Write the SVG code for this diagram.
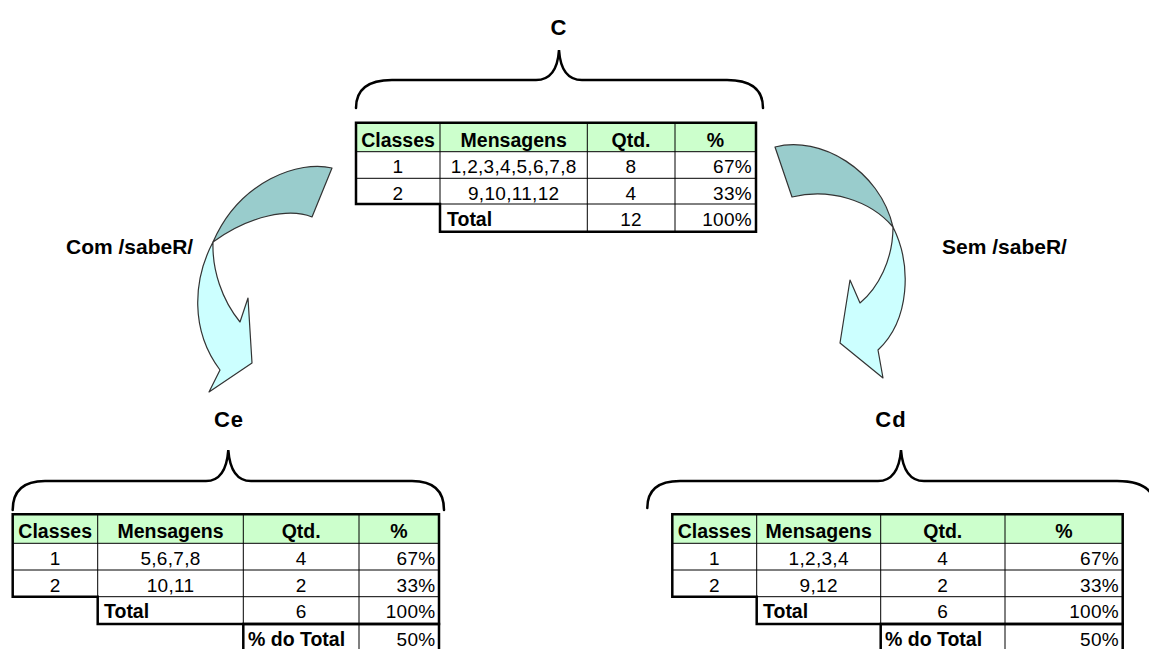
<svg xmlns="http://www.w3.org/2000/svg" width="1149" height="649" viewBox="0 0 1149 649">
  <style>
    .hdr { fill: #CCFFCC; }
    .cell { fill: #FFFFFF; }
    .thin { stroke: #000; stroke-width: 1; fill: none; }
    .outline { stroke: #000; stroke-width: 2.5; fill: none; stroke-linejoin: miter; }
    .brace { stroke: #000; stroke-width: 2.5; fill: none; stroke-linecap: round; }
    .th { font-family: "Liberation Sans", Arial, sans-serif; font-weight: bold; font-size: 19.5px; fill: #000; }
    .td { font-family: "Liberation Sans", Arial, sans-serif; font-size: 19px; fill: #000; letter-spacing: 0.3px; }
    .c { text-anchor: middle; }
    .r { text-anchor: end; }
    .title { font-family: "Liberation Sans", Arial, sans-serif; font-weight: bold; font-size: 22px; fill: #000; text-anchor: middle; letter-spacing: 1px; }
    .lbl { font-family: "Liberation Sans", Arial, sans-serif; font-weight: bold; font-size: 21px; fill: #000; }
    .twist { fill: #99CCCC; stroke: #333; stroke-width: 1.2; stroke-linejoin: round; }
    .body { fill: #CCFFFF; stroke: #333; stroke-width: 1.2; stroke-linejoin: round; }
  </style>

  <!-- Top set: C -->
  <g id="node-C">
    <text class="title" x="559" y="35">C</text>
    <path class="brace" d="M356,108 Q356,80 392,80 L536,80 Q557,80 559,50 Q561,80 582,80 L727,80 Q763,80 763,108"/>
    <rect class="hdr" x="356" y="122.7" width="400" height="29"/>
    <rect class="cell" x="356" y="151.7" width="400" height="52.3"/>
    <rect class="cell" x="440" y="204" width="316" height="27.7"/>
    <path class="thin" d="M356,151.7 H756 M356,178.3 H756 M440,204 H756 M440,122.7 V204 M587.3,122.7 V231.7 M675,122.7 V231.7"/>
    <path class="outline" d="M356,122.7 H756 V231.7 H440 V204 H356 Z"/>
    <text class="th c" x="398" y="146.5">Classes</text>
    <text class="th c" x="513.7" y="146.5">Mensagens</text>
    <text class="th c" x="631" y="146.5">Qtd.</text>
    <text class="th c" x="715.5" y="146.5">%</text>
    <text class="td c" x="398" y="173">1</text>
    <text class="td c" x="513.7" y="173">1,2,3,4,5,6,7,8</text>
    <text class="td c" x="631" y="173">8</text>
    <text class="td r" x="752" y="173">67%</text>
    <text class="td c" x="398" y="200">2</text>
    <text class="td c" x="513.7" y="200">9,10,11,12</text>
    <text class="td c" x="631" y="200">4</text>
    <text class="td r" x="752" y="200">33%</text>
    <text class="th" x="447" y="226">Total</text>
    <text class="td c" x="631" y="226">12</text>
    <text class="td r" x="752" y="226">100%</text>
  </g>

  <!-- Left subset: Ce -->
  <g id="node-Ce">
    <text class="title" x="229" y="427">Ce</text>
    <path class="brace" d="M12.7,510 Q12.7,481 45,481 L206,481 Q226,481 228.3,450 Q230.6,481 251,481 L412,481 Q444,481 444,510"/>
    <rect class="hdr" x="12.7" y="514.3" width="426.3" height="29"/>
    <rect class="cell" x="12.7" y="543.3" width="426.3" height="53.4"/>
    <rect class="cell" x="97.7" y="596.7" width="341.3" height="27.3"/>
    <rect class="cell" x="243.3" y="624" width="195.7" height="27"/>
    <path class="thin" d="M12.7,543.3 H439 M12.7,570 H439 M97.7,596.7 H439 M97.7,514.3 V596.7 M243.3,514.3 V624 M359,514.3 V651"/>
    <path class="outline" d="M12.7,514.3 H439 V624 H97.7 V596.7 H12.7 Z"/>
    <path class="outline" d="M243.3,624 H439 V651 H243.3 Z"/>
    <text class="th c" x="55.2" y="538">Classes</text>
    <text class="th c" x="170.5" y="538">Mensagens</text>
    <text class="th c" x="301.2" y="538">Qtd.</text>
    <text class="th c" x="399" y="538">%</text>
    <text class="td c" x="55.2" y="565">1</text>
    <text class="td c" x="170.5" y="565">5,6,7,8</text>
    <text class="td c" x="301.2" y="565">4</text>
    <text class="td r" x="435.5" y="565">67%</text>
    <text class="td c" x="55.2" y="592">2</text>
    <text class="td c" x="170.5" y="592">10,11</text>
    <text class="td c" x="301.2" y="592">2</text>
    <text class="td r" x="435.5" y="592">33%</text>
    <text class="th" x="104" y="617.5">Total</text>
    <text class="td c" x="301.2" y="617.5">6</text>
    <text class="td r" x="435.5" y="617.5">100%</text>
    <text class="th" x="248" y="646">% do Total</text>
    <text class="td r" x="435.5" y="646">50%</text>
  </g>

  <!-- Right subset: Cd -->
  <g id="node-Cd">
    <text class="title" x="891" y="427">Cd</text>
    <path class="brace" d="M647.3,508 Q647.3,481 680,481 L878,481 Q898.5,481 901,450 Q903.5,481 924,481 L1117,481 Q1155,481 1155,508"/>
    <rect class="hdr" x="672.3" y="514.3" width="450.4" height="29"/>
    <rect class="cell" x="672.3" y="543.3" width="450.4" height="53.4"/>
    <rect class="cell" x="756.7" y="596.7" width="366" height="27.3"/>
    <rect class="cell" x="880.7" y="624" width="242" height="27"/>
    <path class="thin" d="M672.3,543.3 H1122.7 M672.3,570 H1122.7 M756.7,596.7 H1122.7 M756.7,514.3 V596.7 M880.7,514.3 V624 M1005,514.3 V651"/>
    <path class="outline" d="M672.3,514.3 H1122.7 V624 H756.7 V596.7 H672.3 Z"/>
    <path class="outline" d="M880.7,624 H1122.7 V651 H880.7 Z"/>
    <text class="th c" x="714.5" y="538">Classes</text>
    <text class="th c" x="818.7" y="538">Mensagens</text>
    <text class="th c" x="942.8" y="538">Qtd.</text>
    <text class="th c" x="1063.8" y="538">%</text>
    <text class="td c" x="714.5" y="565">1</text>
    <text class="td c" x="818.7" y="565">1,2,3,4</text>
    <text class="td c" x="942.8" y="565">4</text>
    <text class="td r" x="1119" y="565">67%</text>
    <text class="td c" x="714.5" y="592">2</text>
    <text class="td c" x="818.7" y="592">9,12</text>
    <text class="td c" x="942.8" y="592">2</text>
    <text class="td r" x="1119" y="592">33%</text>
    <text class="th" x="763" y="617.5">Total</text>
    <text class="td c" x="942.8" y="617.5">6</text>
    <text class="td r" x="1119" y="617.5">100%</text>
    <text class="th" x="885" y="646">% do Total</text>
    <text class="td r" x="1119" y="646">50%</text>
  </g>

  <!-- Connectors: twisted curved arrows with their labels -->
  <g id="connectors">
    <g id="edge-com">
      <path class="body" d="M213,242 C193,280 190,330 220,370 L209,392 L252,363 L248,298 L240,322 C222,300 212,270 213,242 Z"/>
      <path class="twist" d="M213,242 C240,180 300,160 332,168 L312,217 C290,208 250,215 213,242 Z"/>
      <text class="lbl" x="66" y="254">Com /sabeR/</text>
    </g>
    <g id="edge-sem">
      <path class="body" d="M893,227 C912,265 910,320 878,350 L883,378 L840,343 L850,280 L860,303 C878,288 893,260 893,227 Z"/>
      <path class="twist" d="M775,147 C820,135 880,170 893,227 C870,200 830,188 792,197 Z"/>
      <text class="lbl" x="942" y="254">Sem /sabeR/</text>
    </g>
  </g>
</svg>
